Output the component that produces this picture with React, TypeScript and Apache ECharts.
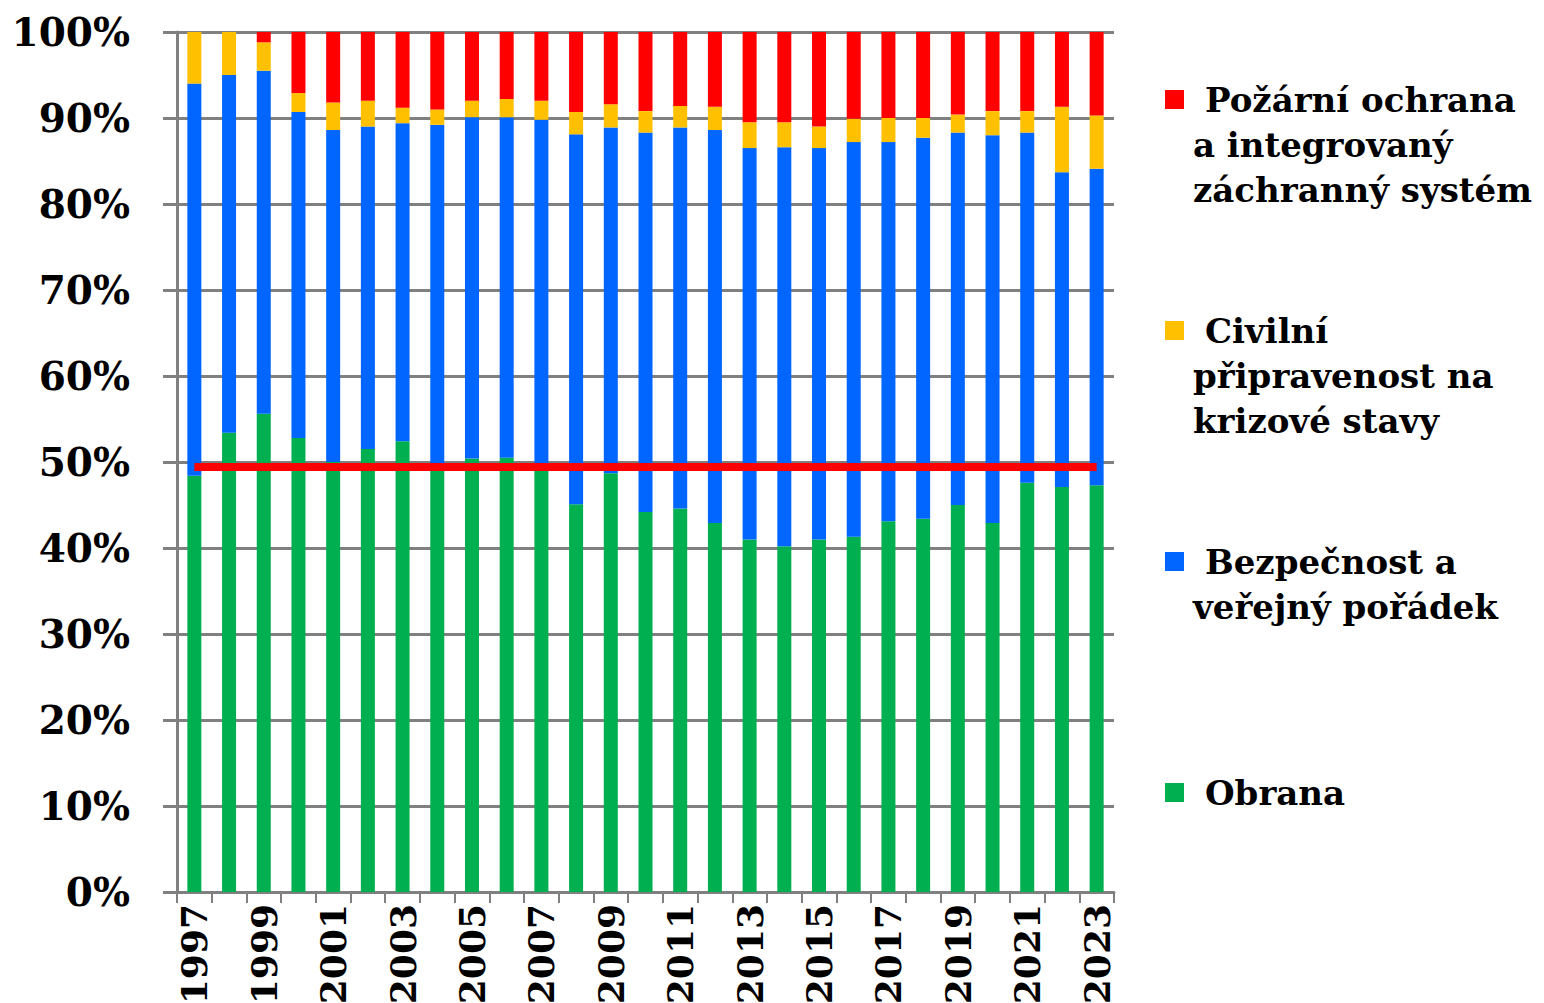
import React, { useEffect, useRef } from "react";
import * as echarts from "echarts";

const years = ["1997","1998","1999","2000","2001","2002","2003","2004","2005","2006","2007","2008","2009","2010","2011","2012","2013","2014","2015","2016","2017","2018","2019","2020","2021","2022","2023"];
const obrana = [48.4,53.4,55.6,52.8,50.0,51.5,52.4,49.4,50.4,50.5,49.4,45.1,48.7,44.2,44.6,42.9,41.0,40.2,41.0,41.3,43.1,43.4,45.0,42.9,47.6,47.1,47.3];
const bezpecnost = [45.6,41.6,39.9,37.9,38.6,37.5,37.0,39.8,39.7,39.6,40.4,43.0,40.2,44.1,44.3,45.7,45.5,46.4,45.5,45.9,44.1,44.3,43.3,45.1,40.7,36.6,36.8];
const civilni = [6.0,5.0,3.3,2.2,3.2,3.0,1.8,1.8,1.9,2.1,2.2,2.6,2.7,2.5,2.5,2.7,3.0,2.9,2.5,2.7,2.8,2.3,2.1,2.8,2.5,7.6,6.2];
const pozarni = [0,0,1.2,7.1,8.2,8.0,8.8,9.0,8.0,7.8,8.0,9.3,8.4,9.2,8.6,8.7,10.5,10.5,11.0,10.1,10.0,10.0,9.6,9.2,9.2,8.7,9.7];
const referenceLevel = 49.5;

const seriesNames = ["Obrana", "Bezpečnost a veřejný pořádek", "Civilní připravenost na krizové stavy", "Požární ochrana a integrovaný záchranný systém"];
const colors = ["#00B050", "#0066FF", "#FFC000", "#FF0000"];

const legendItems = [
  { color: "#FF0000", markerY: 90, lines: ["Požární ochrana", "a integrovaný", "záchranný systém"], lineYs: [100, 145, 190] },
  { color: "#FFC000", markerY: 321, lines: ["Civilní", "připravenost na", "krizové stavy"], lineYs: [331, 376, 421] },
  { color: "#0066FF", markerY: 552, lines: ["Bezpečnost a", "veřejný pořádek"], lineYs: [562, 607] },
  { color: "#00B050", markerY: 783, lines: ["Obrana"], lineYs: [793] },
];

const FONT = "DejaVu Serif";

export default function App() {
  const ref = useRef<HTMLDivElement>(null);
  useEffect(() => {
    if (!ref.current) return;
    const chart = echarts.init(ref.current, null, { renderer: "svg" });
    const values = [obrana, bezpecnost, civilni, pozarni];
    const graphic: any[] = [];
    legendItems.forEach((it) => {
      graphic.push({ type: "rect", left: 1165, top: it.markerY, shape: { width: 19, height: 19 }, style: { fill: it.color } });
      it.lines.forEach((ln, i) => {
        graphic.push({
          type: "text",
          x: i === 0 ? 1205 : 1193,
          y: it.lineYs[i],
          style: { text: ln, fontSize: 34, fontWeight: "bold", fontFamily: FONT, fill: "#000", verticalAlign: "middle", align: "left" },
        });
      });
    });
    chart.setOption({
      animation: false,
      backgroundColor: "#fff",
      grid: { left: 177, right: 430, top: 32, bottom: 111, containLabel: false, outerBoundsMode: "none" },
      xAxis: {
        type: "category",
        data: years,
        boundaryGap: true,
        axisLine: { lineStyle: { color: "#808080", width: 3 } },
        axisTick: { show: true, interval: 0, length: 11, lineStyle: { color: "#808080", width: 2 } },
        axisLabel: { interval: 1, rotate: 90, margin: 12, fontSize: 36, fontWeight: "bold", fontFamily: FONT, color: "#000" },
      },
      yAxis: {
        type: "value",
        min: 0,
        max: 100,
        interval: 10,
        axisLine: { show: true, lineStyle: { color: "#808080", width: 3 } },
        axisTick: { show: true, length: 14, lineStyle: { color: "#808080", width: 3 } },
        splitLine: { show: true, lineStyle: { color: "#808080", width: 3 } },
        axisLabel: { formatter: "{value}%", margin: 47, fontSize: 39, fontWeight: "bold", fontFamily: FONT, color: "#000" },
      },
      series: values.map((v, i) => ({
        name: seriesNames[i],
        type: "bar",
        stack: "total",
        barWidth: 14,
        data: v,
        itemStyle: { color: colors[i] },
        ...(i === 3
          ? {
              markLine: {
                silent: true,
                symbol: ["none", "none"],
                label: { show: false },
                lineStyle: { color: "#FF0000", width: 8, type: "solid" },
                data: [[{ coord: [years[0], referenceLevel] }, { coord: [years[years.length - 1], referenceLevel] }]],
              },
            }
          : {}),
      })),
      graphic,
    });
    return () => chart.dispose();
  }, []);
  return <div ref={ref} style={{ position: "fixed", left: 0, top: 0, width: 1544, height: 1003 }} />;
}
